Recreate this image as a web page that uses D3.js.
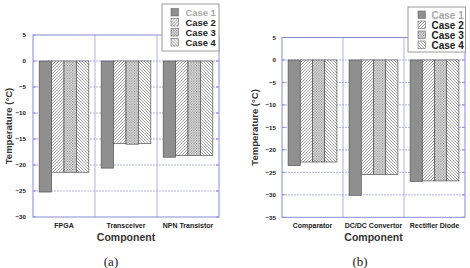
<!DOCTYPE html>
<html>
<head>
<meta charset="utf-8">
<script src="https://cdn.jsdelivr.net/npm/d3@7"></script>
<style>
  body { margin: 0; background: #fff; }
  svg { display: block; font-family: "Liberation Sans", Arial, sans-serif; }
</style>
</head>
<body>
<svg width="470" height="268"></svg>
<script>
// data
let cases = ['Case 1', 'Case 2', 'Case 3', 'Case 4']

let compA = ['FPGA', 'Transceiver', 'NPN Transistor']
let case1A = [-25.2, -20.6, -18.5]
let case2A = [-21.4, -15.9, -18.2]
let case3A = [-21.4, -16.0, -18.2]
let case4A = [-21.4, -15.9, -18.2]
let ticksA = [5, 0, -5, -10, -15, -20, -25, -30]

let compB = ['Comparator', 'DC/DC Convertor', 'Rectifier Diode']
let case1B = [-23.5, -30.1, -27.0]
let case2B = [-22.7, -25.5, -26.9]
let case3B = [-22.7, -25.5, -26.9]
let case4B = [-22.7, -25.5, -26.9]
let ticksB = [5, 0, -5, -10, -15, -20, -25, -30, -35]

let svg = d3.select('svg')
let defs = svg.append('defs')

// hatch patterns
function hatch(id, dir) {
  let p = defs.append('pattern').attr('id', id)
    .attr('patternUnits', 'userSpaceOnUse')
    .attr('width', 3).attr('height', 3)
  p.append('rect').attr('width', 3).attr('height', 3).attr('fill', '#fff')
  if (dir > 0) {
    p.append('path').attr('d', 'M-1,1 L1,-1 M0,3 L3,0 M2,4 L4,2')
  } else {
    p.append('path').attr('d', 'M-1,2 L1,4 M0,0 L3,3 M2,-1 L4,1')
  }
  p.select('path').attr('stroke', '#777').attr('stroke-width', 0.7)
}
hatch('h2', 1)
hatch('h4', -1)
let chk = defs.append('pattern').attr('id', 'h3')
  .attr('patternUnits', 'userSpaceOnUse').attr('width', 2.6).attr('height', 2.6)
chk.append('rect').attr('width', 2.6).attr('height', 2.6).attr('fill', '#f2f2f2')
chk.append('rect').attr('width', 1.1).attr('height', 1.1).attr('fill', '#6a6a6a')
chk.append('rect').attr('x', 1.3).attr('y', 1.3).attr('width', 1.1).attr('height', 1.1).attr('fill', '#6a6a6a')

let fills = ['#8f8f8f', 'url(#h2)', 'url(#h3)', 'url(#h4)']

function panel(opt) {
  let g = svg.append('g')
  let x0 = d3.scaleBand().domain(opt.comp).range([opt.left, opt.right])
  let bw = x0.bandwidth()
  let x1 = d3.scaleBand().domain(cases).range([bw * 0.1, bw * 0.9])
  let y = d3.scaleLinear().domain([opt.ticks[0], opt.ticks[opt.ticks.length - 1]])
    .range([opt.top, opt.bottom])

  // grid
  g.selectAll('line.hg').data(opt.ticks.slice(1, -1)).enter().append('line')
    .attr('x1', opt.left).attr('x2', opt.right)
    .attr('y1', d => y(d)).attr('y2', d => y(d))
    .attr('stroke', '#a8a8e0').attr('stroke-width', 0.9)
    .attr('stroke-dasharray', '2,1')
  g.selectAll('line.vg').data(opt.comp.slice(1)).enter().append('line')
    .attr('x1', d => x0(d)).attr('x2', d => x0(d))
    .attr('y1', opt.top).attr('y2', opt.bottom)
    .attr('stroke', '#a8a8e0').attr('stroke-width', 0.9)

  // bars
  let series = opt.values
  let groups = g.selectAll('g.grp').data(opt.comp).enter().append('g')
    .attr('transform', d => `translate(${x0(d)},0)`)
  groups.selectAll('rect')
    .data((d, i) => cases.map((c, k) => ({ c: c, k: k, v: series[k][i] })))
    .enter().append('rect')
    .attr('x', d => x1(d.c))
    .attr('width', x1.bandwidth())
    .attr('y', d => y(0))
    .attr('height', d => y(d.v) - y(0))
    .attr('fill', d => fills[d.k])
    .attr('stroke', '#555').attr('stroke-width', 0.7)

  // frame
  g.append('rect').attr('x', opt.left).attr('y', opt.top)
    .attr('width', opt.right - opt.left).attr('height', opt.bottom - opt.top)
    .attr('fill', 'none').attr('stroke', '#8a8ad8').attr('stroke-width', 1)

  // axes
  let ya = d3.axisLeft(y).tickValues(opt.ticks).tickSize(0).tickPadding(opt.tickPad)
  let yg = g.append('g').attr('transform', `translate(${opt.left},0)`).call(ya)
  yg.select('.domain').remove()
  yg.selectAll('text').attr('font-size', 6.2).attr('font-weight', 'bold').attr('fill', '#222')
    .attr('font-family', '"Liberation Sans", Arial, sans-serif')
  // small ticks on both sides
  g.selectAll('line.tk').data(opt.ticks).enter().append('line')
    .attr('x1', opt.left).attr('x2', opt.left + 3)
    .attr('y1', d => y(d)).attr('y2', d => y(d)).attr('stroke', '#8a8ad8')
  g.selectAll('line.tk2').data(opt.ticks).enter().append('line')
    .attr('x1', opt.right - 3).attr('x2', opt.right)
    .attr('y1', d => y(d)).attr('y2', d => y(d)).attr('stroke', '#8a8ad8')

  let xa = d3.axisBottom(x0).tickSize(0).tickPadding(6)
  let xg = g.append('g').attr('transform', `translate(0,${opt.bottom})`).call(xa)
  xg.select('.domain').remove()
  xg.selectAll('text').attr('font-size', 7).attr('font-weight', 'bold').attr('fill', '#222')
    .attr('font-family', '"Liberation Sans", Arial, sans-serif')

  g.append('text').attr('x', (opt.left + opt.right) / 2).attr('y', 241)
    .attr('text-anchor', 'middle').attr('font-size', 10.5).attr('font-weight', 'bold')
    .attr('fill', '#333').text('Component')
  g.append('text')
    .attr('transform', `translate(${opt.ytx},${(opt.top + opt.bottom) / 2}) rotate(-90)`)
    .attr('text-anchor', 'middle').attr('font-size', 9.5).attr('font-weight', 'bold')
    .attr('fill', '#333').text('Temperature (°C)')
  g.append('text').attr('x', opt.capX).attr('y', 266)
    .attr('text-anchor', 'middle').attr('font-size', 13)
    .attr('font-family', '"Liberation Serif", "Times New Roman", serif')
    .attr('fill', '#222').text(opt.cap)

  // legend
  let L = opt.legend
  g.append('rect').attr('x', L.x).attr('y', L.y).attr('width', L.w).attr('height', L.h)
    .attr('fill', '#fff').attr('stroke', '#9a9a9a').attr('stroke-width', 1)
  let li = g.selectAll('g.li').data(cases).enter().append('g')
    .attr('transform', (d, i) => `translate(${L.ix},${L.iy + i * 10})`)
  li.append('rect').attr('x', 0).attr('y', -4).attr('width', 7.5).attr('height', 7.5)
    .attr('fill', (d, i) => fills[i]).attr('stroke', '#666').attr('stroke-width', 0.6)
  li.append('text').attr('x', L.tx).attr('y', 3.6)
    .attr('font-size', L.fs).attr('font-weight', 'bold')
    .attr('fill', (d, i) => i === 0 ? '#a8a8a8' : '#222').text(d => d)
}

panel({
  comp: compA, values: [case1A, case2A, case3A, case4A], ticks: ticksA,
  left: 33, right: 219, top: 35, bottom: 217, tickPad: 7, ytx: 12,
  cap: '(a)', capX: 111,
  legend: { x: 162, y: 4, w: 57, h: 47, ix: 171, iy: 12.5, tx: 14.5, fs: 9.4 }
})
panel({
  comp: compB, values: [case1B, case2B, case3B, case4B], ticks: ticksB,
  left: 282, right: 465, top: 37.5, bottom: 217.3, tickPad: 6, ytx: 258,
  cap: '(b)', capX: 360,
  legend: { x: 408, y: 7, w: 57.5, h: 45, ix: 418, iy: 15, tx: 13.5, fs: 10 }
})
</script>
</body>
</html>
